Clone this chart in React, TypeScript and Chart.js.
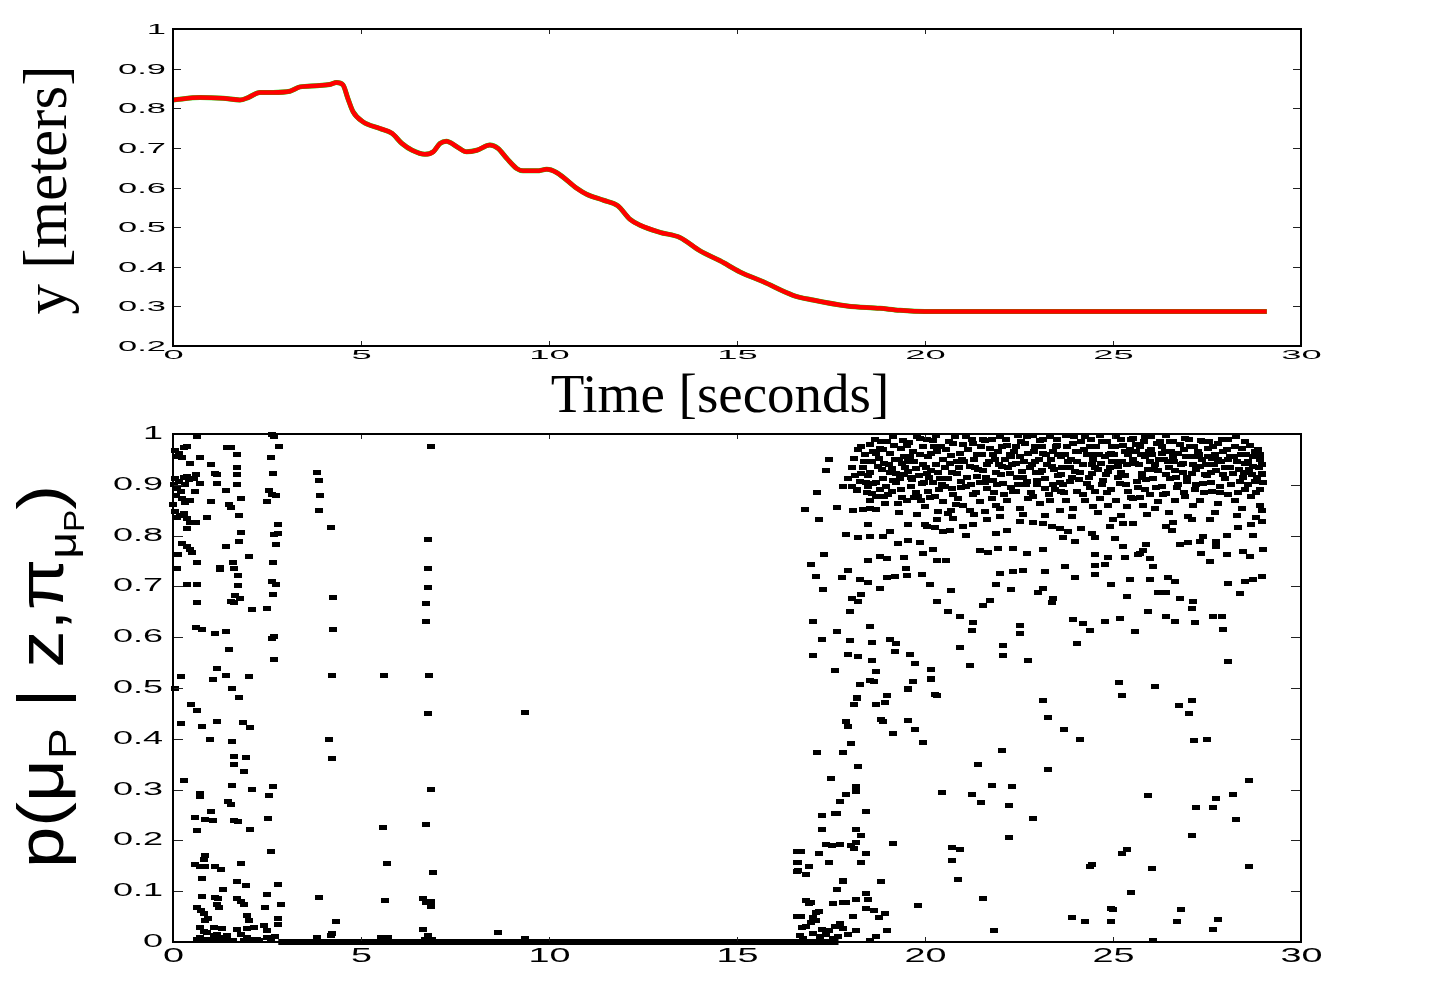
import React, { useEffect, useRef } from "react";
import { Chart, registerables } from "chart.js";

Chart.register(...registerables);

// ---------- top panel: y position over time ----------
const timeSeconds = [
  0, 0.72, 1.33, 1.78, 2.0, 2.31, 2.66, 3.11, 3.38, 3.82, 4.17, 4.35, 4.52, 4.65, 4.79, 5.05, 5.5, 5.82,
  6.09, 6.36, 6.7, 6.92, 7.1, 7.27, 7.55, 7.81, 8.08, 8.43, 8.64, 8.88, 9.14, 9.31, 9.68, 9.94, 10.2,
  10.74, 11.0, 11.44, 11.83, 12.15, 12.42, 12.95, 13.48, 14.02, 14.55, 15.08, 15.7, 16.49, 17.02, 17.93,
  18.8, 19.33, 20.0, 21.5, 23.0, 24.5, 26.0, 27.5, 29.09,
];
const heightMeters = [
  0.821, 0.827, 0.825, 0.821, 0.827, 0.84, 0.84, 0.843, 0.854, 0.857, 0.86, 0.865, 0.859, 0.825, 0.791,
  0.766, 0.749, 0.737, 0.711, 0.694, 0.684, 0.69, 0.711, 0.717, 0.703, 0.69, 0.694, 0.707, 0.699, 0.673,
  0.648, 0.642, 0.642, 0.646, 0.638, 0.598, 0.583, 0.568, 0.554, 0.52, 0.505, 0.487, 0.474, 0.44, 0.415,
  0.387, 0.362, 0.328, 0.316, 0.301, 0.295, 0.29, 0.287, 0.287, 0.287, 0.287, 0.287, 0.287, 0.287,
];

const xTicks = [0, 5, 10, 15, 20, 25, 30];
const topYTicks = [0.2, 0.3, 0.4, 0.5, 0.6, 0.7, 0.8, 0.9, 1];
const bottomYTicks = [0, 0.1, 0.2, 0.3, 0.4, 0.5, 0.6, 0.7, 0.8, 0.9, 1];

// ---------- bottom panel: probability samples ----------
const zeroRunTimes = [2.8, 17.7];

const earlyProbPoints: [number, number][] = [
  [0.64, 0.995], [0.06, 0.967], [0.15, 0.961], [0.28, 0.974], [0.37, 0.976], [0.09, 0.955], [0.24, 0.954],
  [0.46, 0.942], [0.71, 0.953], [1.0, 0.94], [1.44, 0.973], [1.53, 0.973], [1.69, 0.959], [1.69, 0.934],
  [1.69, 0.921], [1.13, 0.923], [1.17, 0.92], [2.6, 0.953], [2.69, 0.996], [2.64, 1.0], [2.82, 0.976],
  [2.67, 0.923], [0.06, 0.912], [0.15, 0.906], [0.02, 0.9], [0.11, 0.893], [0.2, 0.886], [0.09, 0.878],
  [0.28, 0.915], [0.37, 0.917], [0.33, 0.9], [0.42, 0.91], [0.6, 0.921], [0.55, 0.913], [0.73, 0.903],
  [0.58, 0.887], [0.24, 0.873], [0.33, 0.866], [0.46, 0.869], [0.0, 0.862], [1.0, 0.867], [1.17, 0.903],
  [1.42, 0.889], [1.49, 0.862], [1.53, 0.856], [1.69, 0.9], [1.81, 0.874], [2.55, 0.889], [2.64, 0.881],
  [2.73, 0.879], [2.51, 0.868], [3.84, 0.925], [3.89, 0.908], [3.91, 0.878], [3.89, 0.849], [0.06, 0.847],
  [0.18, 0.839], [0.28, 0.844], [0.37, 0.833], [0.11, 0.835], [0.44, 0.826], [0.6, 0.825], [0.91, 0.835],
  [1.75, 0.84], [2.78, 0.822], [2.78, 0.805], [2.69, 0.803], [4.2, 0.815], [0.37, 0.813], [1.81, 0.806],
  [2.73, 0.783], [1.75, 0.788], [0.24, 0.784], [0.36, 0.778], [0.46, 0.772], [0.51, 0.767], [0.12, 0.762],
  [1.42, 0.778], [2.02, 0.759], [0.64, 0.747], [0.11, 0.736], [1.26, 0.738], [1.26, 0.733], [1.6, 0.747],
  [1.62, 0.736], [1.73, 0.721], [2.66, 0.748], [0.36, 0.704], [0.64, 0.704], [1.73, 0.702], [2.64, 0.71],
  [2.73, 0.704], [2.66, 0.684], [0.64, 0.669], [1.53, 0.671], [1.62, 0.669], [1.66, 0.683], [1.78, 0.677],
  [2.1, 0.654], [2.51, 0.657], [4.26, 0.678], [0.6, 0.62], [0.77, 0.616], [1.13, 0.608], [1.42, 0.612],
  [2.64, 0.598], [2.69, 0.601], [4.25, 0.616], [1.49, 0.576], [2.69, 0.557], [0.21, 0.523], [1.17, 0.539],
  [1.07, 0.517], [1.42, 0.525], [2.03, 0.523], [4.24, 0.525], [0.04, 0.5], [1.56, 0.5], [1.75, 0.482],
  [0.48, 0.468], [0.64, 0.456], [0.21, 0.43], [0.77, 0.425], [1.17, 0.434], [1.87, 0.432], [2.05, 0.422],
  [0.98, 0.399], [1.56, 0.395], [4.15, 0.399], [1.62, 0.365], [1.95, 0.364], [1.62, 0.349], [4.24, 0.361],
  [1.9, 0.336], [0.28, 0.318], [1.56, 0.308], [2.11, 0.301], [2.67, 0.306], [2.54, 0.288], [0.71, 0.293],
  [0.71, 0.286], [1.0, 0.257], [0.58, 0.245], [0.86, 0.241], [1.07, 0.239], [0.64, 0.22], [1.46, 0.277],
  [1.55, 0.271], [1.62, 0.239], [1.73, 0.237], [2.04, 0.222], [2.53, 0.244], [2.6, 0.179], [0.86, 0.171],
  [0.82, 0.162], [0.58, 0.152], [0.73, 0.148], [0.86, 0.149], [1.13, 0.149], [1.28, 0.142], [1.81, 0.154],
  [0.77, 0.125], [1.69, 0.12], [1.95, 0.111], [0.77, 0.089], [1.13, 0.087], [1.19, 0.085], [1.33, 0.104],
  [0.64, 0.067], [0.75, 0.062], [0.82, 0.056], [0.93, 0.047], [0.86, 0.042], [1.22, 0.067], [1.17, 0.074],
  [1.69, 0.086], [1.8, 0.079], [1.9, 0.074], [1.98, 0.052], [2.02, 0.042], [2.51, 0.093], [2.46, 0.067],
  [2.8, 0.113], [2.86, 0.073], [2.78, 0.047], [2.78, 0.034], [3.89, 0.087], [4.24, 0.016], [4.33, 0.041],
  [5.64, 0.081], [5.69, 0.155], [5.58, 0.226], [0.71, 0.028], [0.82, 0.02], [1.09, 0.028], [1.31, 0.026],
  [1.71, 0.025], [1.98, 0.026], [2.15, 0.028], [2.42, 0.032], [2.51, 0.022], [0.73, 0.008], [0.91, 0.005],
  [1.09, 0.012], [1.26, 0.008], [1.44, 0.012], [1.8, 0.015], [1.98, 0.008], [2.24, 0.005], [2.51, 0.008],
  [0.91, 0.018], [1.17, 0.015], [3.84, 0.008], [4.2, 0.012], [5.53, 0.008], [5.71, 0.008], [0.65, 0.004],
  [0.8, 0.002], [1.0, 0.004], [1.2, 0.003], [1.4, 0.006], [1.6, 0.002], [1.9, 0.003], [2.1, 0.004],
  [2.3, 0.002], [2.6, 0.004], [2.7, 0.01], [5.62, 0.525],
  [6.86, 0.976], [6.79, 0.792], [6.79, 0.735], [6.79, 0.697], [6.72, 0.666], [6.72, 0.631], [6.82, 0.525],
  [6.79, 0.449], [9.36, 0.451], [6.86, 0.3], [6.72, 0.232], [6.92, 0.136], [6.66, 0.085], [6.74, 0.078],
  [6.86, 0.08], [6.86, 0.069], [6.64, 0.024], [6.79, 0.012], [6.7, 0.005], [6.9, 0.005], [8.65, 0.019],
  [9.36, 0.007],
];

const lateProbPoints: [number, number][] = [
  [16.6, 0.179], [16.6, 0.156], [16.6, 0.139], [16.6, 0.051],
  [17.45, 0.949], [17.38, 0.929], [17.12, 0.885], [16.8, 0.852], [17.19, 0.832], [17.66, 0.856],
  [18.09, 0.849], [18.36, 0.852], [18.53, 0.854], [18.71, 0.852], [18.49, 0.821], [17.89, 0.803],
  [18.22, 0.797], [18.53, 0.799], [18.89, 0.798], [19.07, 0.808], [19.29, 0.785], [19.55, 0.791],
  [19.86, 0.786], [19.55, 0.821], [20.0, 0.821], [20.26, 0.816], [17.31, 0.762], [16.98, 0.744],
  [17.96, 0.732], [18.49, 0.751], [18.8, 0.759], [18.98, 0.755], [19.44, 0.757], [19.49, 0.736],
  [19.95, 0.765], [20.22, 0.772], [20.31, 0.751], [20.57, 0.751], [17.1, 0.72], [17.78, 0.718],
  [18.27, 0.713], [18.49, 0.707], [18.98, 0.718], [19.2, 0.719], [19.51, 0.721], [19.91, 0.724],
  [17.29, 0.694], [18.05, 0.677], [18.31, 0.685], [18.8, 0.696], [18.22, 0.67], [20.13, 0.703],
  [20.7, 0.692], [20.31, 0.67], [18.0, 0.65], [17.03, 0.631], [17.65, 0.611], [18.53, 0.621],
  [17.25, 0.595], [18.0, 0.594], [18.58, 0.589], [19.07, 0.595], [19.24, 0.587], [17.03, 0.563],
  [17.96, 0.565], [18.22, 0.562], [18.58, 0.554], [19.2, 0.572], [19.6, 0.565], [17.6, 0.534],
  [18.27, 0.506], [18.71, 0.532], [18.98, 0.486], [19.55, 0.499], [19.69, 0.513], [19.73, 0.549],
  [20.17, 0.537], [20.17, 0.519], [20.26, 0.488], [18.18, 0.482], [18.53, 0.515], [20.62, 0.65],
  [20.93, 0.64], [21.28, 0.629], [21.24, 0.614], [20.93, 0.58], [21.19, 0.545], [21.55, 0.662],
  [21.73, 0.673], [21.9, 0.703], [21.99, 0.726], [22.3, 0.694], [22.35, 0.729], [22.61, 0.732],
  [22.08, 0.583], [22.08, 0.563], [22.52, 0.624], [22.52, 0.608], [22.74, 0.554], [23.01, 0.688],
  [23.14, 0.696], [23.19, 0.729], [23.37, 0.668], [23.41, 0.677], [23.72, 0.74], [23.94, 0.634],
  [23.99, 0.718], [24.03, 0.587], [24.21, 0.626], [24.38, 0.613], [24.52, 0.724], [24.52, 0.741],
  [24.78, 0.744], [24.78, 0.631], [24.87, 0.757], [24.96, 0.703], [25.18, 0.637], [25.32, 0.757],
  [25.45, 0.713], [25.58, 0.611], [25.36, 0.68], [25.67, 0.762], [25.8, 0.77], [25.89, 0.783],
  [25.98, 0.713], [26.07, 0.74], [25.94, 0.65], [26.2, 0.688], [26.42, 0.688], [26.47, 0.718],
  [26.64, 0.709], [26.78, 0.677], [26.42, 0.64], [26.64, 0.63], [27.13, 0.67], [27.09, 0.657],
  [27.18, 0.629], [27.66, 0.641], [27.89, 0.641], [27.93, 0.616], [28.06, 0.552], [27.35, 0.765],
  [27.58, 0.749], [28.02, 0.762], [28.46, 0.768], [28.64, 0.759], [29.0, 0.772], [28.06, 0.705],
  [28.37, 0.686], [28.51, 0.709], [28.73, 0.714], [28.95, 0.72], [27.4, 0.798], [27.75, 0.788],
  [26.56, 0.811], [26.78, 0.783], [27.0, 0.786], [27.31, 0.788], [27.75, 0.778], [28.02, 0.801],
  [28.33, 0.816], [28.68, 0.821], [28.95, 0.827], [28.73, 0.801], [27.09, 0.831], [27.58, 0.831],
  [26.42, 0.818], [26.6, 0.826], [25.54, 0.824], [25.27, 0.824], [25.0, 0.831], [24.92, 0.818],
  [25.05, 0.795], [25.27, 0.778], [25.71, 0.765], [25.98, 0.755], [23.81, 0.808], [24.16, 0.814],
  [24.43, 0.805], [24.52, 0.797], [23.59, 0.814], [23.37, 0.818], [23.14, 0.824], [22.88, 0.826],
  [22.52, 0.827], [22.17, 0.811], [21.9, 0.805], [21.64, 0.831], [21.46, 0.77], [21.68, 0.766],
  [21.95, 0.775], [22.35, 0.775], [22.7, 0.765], [23.14, 0.772], [23.68, 0.797], [23.99, 0.788],
  [24.52, 0.762], [21.02, 0.818], [21.28, 0.821], [21.1, 0.801], [20.31, 0.831], [20.04, 0.818],
  [20.75, 0.834], [20.66, 0.811], [20.48, 0.808],
  [18.27, 0.506], [18.65, 0.512], [19.67, 0.512], [20.17, 0.516], [19.55, 0.498], [20.31, 0.486],
  [19.0, 0.486], [18.18, 0.48], [18.11, 0.467], [18.71, 0.468], [18.93, 0.471], [17.9, 0.434],
  [17.96, 0.425], [18.84, 0.438], [18.87, 0.434], [19.54, 0.437], [19.73, 0.419], [19.14, 0.411],
  [19.95, 0.393], [18.02, 0.39], [17.12, 0.373], [17.81, 0.373], [18.22, 0.346], [17.51, 0.322],
  [18.16, 0.307], [18.16, 0.296], [17.9, 0.291], [17.74, 0.276], [17.25, 0.25], [17.6, 0.252],
  [17.66, 0.252], [18.43, 0.257], [17.25, 0.221], [18.16, 0.221], [18.29, 0.209], [17.36, 0.192],
  [17.53, 0.19], [17.74, 0.192], [18.02, 0.19], [18.11, 0.184], [18.16, 0.196], [16.69, 0.179],
  [17.19, 0.175], [18.43, 0.175], [18.29, 0.157], [17.45, 0.157], [16.63, 0.157], [16.63, 0.14],
  [16.83, 0.133], [16.92, 0.148], [19.14, 0.194], [17.81, 0.122], [17.81, 0.119], [17.66, 0.104],
  [18.84, 0.119], [17.54, 0.075], [17.81, 0.078], [17.9, 0.078], [18.16, 0.084], [18.43, 0.096],
  [18.49, 0.084], [16.83, 0.081], [16.92, 0.075], [16.98, 0.077], [18.43, 0.066], [18.64, 0.062],
  [18.93, 0.056], [18.78, 0.049], [16.69, 0.051], [17.01, 0.049], [17.1, 0.058], [17.19, 0.06],
  [18.09, 0.051], [16.74, 0.029], [16.83, 0.031], [16.98, 0.038], [17.1, 0.042], [17.27, 0.025],
  [17.45, 0.022], [17.6, 0.03], [17.74, 0.036], [17.82, 0.027], [17.96, 0.014], [18.16, 0.022],
  [19.0, 0.022], [18.71, 0.011], [18.53, 0.003], [16.67, 0.012], [16.76, 0.007], [17.03, 0.017],
  [17.2, 0.011], [17.38, 0.014], [17.56, 0.007], [17.69, 0.011], [19.82, 0.071], [20.44, 0.294],
  [20.71, 0.186], [20.93, 0.183], [20.71, 0.161], [20.87, 0.123], [21.55, 0.086], [21.83, 0.022],
  [21.41, 0.35], [21.26, 0.291], [21.48, 0.274], [21.77, 0.308], [22.04, 0.376], [22.32, 0.306],
  [22.24, 0.268], [22.24, 0.206], [22.88, 0.243], [23.14, 0.475], [23.28, 0.442], [23.28, 0.34],
  [23.7, 0.419], [24.12, 0.399], [23.91, 0.049], [24.25, 0.04], [24.38, 0.148], [24.45, 0.153],
  [24.94, 0.066], [25.0, 0.063], [24.94, 0.04], [25.16, 0.51], [25.23, 0.486], [25.24, 0.175],
  [25.36, 0.183], [25.49, 0.098], [25.92, 0.288], [26.05, 0.144], [26.07, 0.002], [26.13, 0.503],
  [26.69, 0.04], [26.82, 0.063], [26.76, 0.465], [27.03, 0.449], [27.09, 0.475], [27.16, 0.396],
  [27.5, 0.399], [27.09, 0.209], [27.22, 0.265], [27.65, 0.265], [27.73, 0.283], [27.65, 0.025],
  [27.8, 0.045], [28.2, 0.291], [28.27, 0.241], [28.62, 0.317], [28.62, 0.148],
];

const denseBandPoints: [number, number][] = [
  [18.22, 0.969], [18.53, 0.98], [18.31, 0.923], [18.05, 0.896], [17.82, 0.896], [18.27, 0.906], [18.18, 0.888],
  [18.53, 0.87], [18.4, 0.959], [18.71, 0.962], [18.8, 0.972], [18.62, 0.902], [18.49, 0.896], [18.8, 0.891],
  [18.71, 0.877], [18.93, 0.864], [18.76, 0.936], [18.89, 0.913], [18.98, 0.985], [19.07, 0.962], [19.2, 0.949],
  [19.15, 0.909], [19.02, 0.88], [19.24, 0.923], [18.89, 0.969], [19.11, 0.932], [19.42, 0.988], [19.51, 0.978],
  [19.6, 0.955], [19.38, 0.942], [19.33, 0.913], [19.64, 0.896], [19.51, 0.87], [19.29, 0.864], [19.55, 0.926],
  [19.69, 0.965], [19.86, 0.991], [19.95, 0.975], [20.09, 0.955], [19.77, 0.932], [20.04, 0.923], [19.91, 0.903],
  [19.82, 0.877], [20.09, 0.887], [20.0, 0.857], [20.22, 0.988], [20.31, 0.965], [20.48, 0.949], [20.17, 0.929],
  [20.4, 0.913], [20.53, 0.896], [20.26, 0.877], [20.48, 0.867], [20.35, 0.847], [20.75, 0.982], [20.93, 0.962],
  [20.66, 0.942], [20.84, 0.923], [20.97, 0.906], [20.71, 0.893], [20.88, 0.873], [21.02, 0.86], [20.62, 0.844],
  [21.1, 0.996], [21.28, 0.982], [21.41, 0.959], [21.19, 0.936], [21.37, 0.916], [21.1, 0.896], [21.28, 0.88],
  [21.46, 0.867], [21.19, 0.85], [21.59, 0.987], [21.72, 0.972], [21.86, 0.949], [21.55, 0.929], [21.81, 0.909],
  [21.64, 0.893], [21.77, 0.873], [21.9, 0.86], [21.59, 0.847], [21.99, 0.995], [22.17, 0.978], [22.3, 0.955],
  [22.04, 0.936], [22.26, 0.923], [22.08, 0.903], [22.35, 0.887], [22.17, 0.87], [21.99, 0.854], [22.48, 0.998],
  [22.66, 0.982], [22.74, 0.962], [22.43, 0.942], [22.57, 0.926], [22.7, 0.906], [22.43, 0.887], [22.74, 0.873],
  [22.52, 0.854], [22.88, 0.998], [23.05, 0.988], [23.14, 0.962], [22.92, 0.946], [23.1, 0.929], [22.97, 0.909],
  [23.19, 0.893], [22.88, 0.877], [23.05, 0.864], [23.32, 0.995], [23.5, 0.978], [23.63, 0.955], [23.37, 0.936],
  [23.54, 0.919], [23.41, 0.9], [23.63, 0.887], [23.32, 0.87], [23.59, 0.85], [23.76, 0.998], [23.94, 0.982],
  [24.07, 0.965], [23.81, 0.946], [23.99, 0.926], [23.85, 0.906], [24.03, 0.887], [23.76, 0.87], [23.94, 0.854],
  [24.25, 0.995], [24.38, 0.975], [24.52, 0.959], [24.21, 0.939], [24.43, 0.923], [24.3, 0.903], [24.52, 0.887],
  [24.25, 0.87], [24.47, 0.857], [24.65, 0.998], [24.83, 0.985], [24.96, 0.962], [24.69, 0.942], [24.87, 0.926],
  [24.74, 0.909], [24.96, 0.89], [24.65, 0.873], [24.87, 0.86], [25.09, 0.995], [25.27, 0.978], [25.4, 0.959],
  [25.14, 0.936], [25.31, 0.919], [25.18, 0.903], [25.4, 0.887], [25.09, 0.87], [25.36, 0.857], [25.54, 0.991],
  [25.71, 0.975], [25.85, 0.955], [25.58, 0.942], [25.76, 0.923], [25.63, 0.906], [25.85, 0.89], [25.54, 0.873],
  [25.8, 0.86], [26.02, 0.995], [26.16, 0.982], [26.29, 0.962], [25.98, 0.946], [26.2, 0.929], [26.07, 0.913],
  [26.29, 0.896], [25.98, 0.88], [26.2, 0.867], [26.11, 0.854], [26.42, 0.998], [26.6, 0.985], [26.73, 0.962],
  [26.47, 0.946], [26.64, 0.929], [26.51, 0.913], [26.73, 0.9], [26.42, 0.883], [26.64, 0.87], [26.91, 0.991],
  [27.04, 0.975], [27.18, 0.955], [26.87, 0.942], [27.09, 0.923], [26.96, 0.906], [27.18, 0.89], [26.91, 0.877],
  [27.13, 0.86], [27.35, 0.988], [27.53, 0.972], [27.62, 0.952], [27.31, 0.936], [27.49, 0.919], [27.4, 0.903],
  [27.62, 0.887], [27.31, 0.87], [27.8, 0.982], [27.93, 0.965], [28.06, 0.949], [27.75, 0.929], [27.97, 0.913],
  [27.84, 0.896], [28.06, 0.88], [27.8, 0.864], [28.28, 0.995], [28.42, 0.972], [28.51, 0.942], [28.2, 0.923],
  [28.37, 0.906], [28.51, 0.89], [28.24, 0.87], [28.42, 0.854], [28.64, 0.978], [28.86, 0.969], [28.9, 0.949],
  [28.73, 0.936], [28.95, 0.923], [28.77, 0.906], [28.9, 0.89], [28.68, 0.877], [28.9, 0.86], [28.95, 0.85],
  [18.12, 0.952], [18.35, 0.935], [18.45, 0.884], [18.15, 0.918], [18.3, 0.975], [18.42, 0.905],
  [18.58, 0.945], [18.66, 0.99], [18.85, 0.93], [18.95, 0.897], [18.6, 0.883], [18.78, 0.952], [18.92, 0.876],
  [19.05, 0.94], [19.18, 0.978], [19.3, 0.95], [19.45, 0.92], [19.36, 0.89], [19.12, 0.887], [19.48, 0.935],
  [19.58, 0.983], [19.72, 0.945], [19.85, 0.918], [19.95, 0.94], [19.66, 0.91], [19.9, 0.87], [19.75, 0.885],
  [20.05, 0.99], [20.15, 0.962], [20.28, 0.94], [20.42, 0.975], [20.2, 0.905], [20.38, 0.89], [20.12, 0.875],
  [20.55, 0.97], [20.68, 0.958], [20.8, 0.995], [20.9, 0.935], [20.6, 0.912], [20.75, 0.88], [20.98, 0.95],
  [21.05, 0.945], [21.15, 0.97], [21.3, 0.95], [21.42, 0.93], [21.22, 0.9], [21.35, 0.885], [21.48, 0.975],
  [21.52, 0.96], [21.65, 0.94], [21.78, 0.99], [21.9, 0.925], [21.6, 0.905], [21.84, 0.885], [21.95, 0.965],
  [22.05, 0.975], [22.12, 0.95], [22.22, 0.935], [22.38, 0.965], [22.45, 0.915], [22.28, 0.895], [22.1, 0.88],
  [22.55, 0.985], [22.62, 0.945], [22.78, 0.935], [22.9, 0.965], [22.68, 0.9], [22.82, 0.885], [22.95, 0.925],
  [23.02, 0.95], [23.12, 0.975], [23.25, 0.94], [23.4, 0.965], [23.2, 0.912], [23.45, 0.89], [23.3, 0.88],
  [23.52, 0.99], [23.65, 0.935], [23.72, 0.96], [23.88, 0.95], [23.58, 0.905], [23.9, 0.915], [23.7, 0.885],
  [24.05, 0.945], [24.15, 0.985], [24.32, 0.96], [24.45, 0.94], [24.1, 0.91], [24.38, 0.895], [24.2, 0.88],
  [24.55, 0.975], [24.6, 0.93], [24.78, 0.955], [24.92, 0.935], [24.7, 0.9], [24.85, 0.885], [24.98, 0.975],
  [25.02, 0.96], [25.2, 0.99], [25.25, 0.945], [25.45, 0.97], [25.12, 0.915], [25.35, 0.9], [25.48, 0.875],
  [25.6, 0.965], [25.68, 0.94], [25.82, 0.985], [25.92, 0.93], [25.66, 0.895], [25.88, 0.91], [25.72, 0.875],
  [26.05, 0.96], [26.12, 0.94], [26.25, 0.985], [26.35, 0.95], [26.4, 0.92], [26.15, 0.895], [26.32, 0.88],
  [26.55, 0.965], [26.62, 0.945], [26.78, 0.98], [26.85, 0.925], [26.95, 0.955], [26.7, 0.895], [26.88, 0.885],
  [27.02, 0.99], [27.12, 0.94], [27.25, 0.965], [27.38, 0.95], [27.45, 0.92], [27.22, 0.9], [27.42, 0.885],
  [27.55, 0.985], [27.68, 0.94], [27.72, 0.96], [27.88, 0.945], [27.92, 0.92], [27.6, 0.905], [27.85, 0.885],
  [28.02, 0.97], [28.12, 0.935], [28.22, 0.955], [28.35, 0.93], [28.45, 0.915], [28.15, 0.9], [28.32, 0.885],
  [28.55, 0.96], [28.62, 0.93], [28.72, 0.955], [28.82, 0.915], [28.95, 0.94], [28.6, 0.9], [28.8, 0.885],
  [28.98, 0.905],
  [18.05, 0.935], [18.2, 0.89], [18.38, 0.945], [18.48, 0.918], [17.95, 0.912],
  [18.55, 0.925], [18.7, 0.905], [18.82, 0.985], [18.9, 0.942], [18.62, 0.965],
  [19.08, 0.925], [19.22, 0.905], [19.35, 0.972], [19.45, 0.955], [19.15, 0.995], [19.4, 0.875],
  [19.55, 0.945], [19.62, 0.915], [19.78, 0.995], [19.88, 0.96], [19.98, 0.905], [19.7, 0.875],
  [20.02, 0.935], [20.1, 0.915], [20.25, 0.975], [20.35, 0.925], [20.45, 0.9], [20.3, 0.998],
  [20.52, 0.935], [20.65, 0.985], [20.72, 0.925], [20.85, 0.945], [20.95, 0.895], [20.82, 0.862],
  [21.02, 0.98], [21.12, 0.915], [21.25, 0.99], [21.38, 0.96], [21.45, 0.905], [21.32, 0.935],
  [21.55, 0.99], [21.62, 0.915], [21.7, 0.945], [21.82, 0.96], [21.92, 0.9], [21.98, 0.94],
  [22.02, 0.92], [22.15, 0.99], [22.25, 0.96], [22.32, 0.94], [22.42, 0.975], [22.48, 0.9],
  [22.52, 0.955], [22.6, 0.915], [22.72, 0.995], [22.85, 0.94], [22.92, 0.975], [22.98, 0.9],
  [23.05, 0.925], [23.15, 0.99], [23.22, 0.96], [23.35, 0.95], [23.42, 0.93], [23.48, 0.975],
  [23.55, 0.96], [23.62, 0.92], [23.78, 0.975], [23.85, 0.935], [23.95, 0.995], [23.68, 0.9],
  [24.02, 0.965], [24.12, 0.925], [24.22, 0.97], [24.35, 0.915], [24.42, 0.99], [24.48, 0.95],
  [24.52, 0.935], [24.62, 0.96], [24.72, 0.985], [24.82, 0.92], [24.9, 0.96], [24.98, 0.945],
  [25.05, 0.975], [25.15, 0.945], [25.22, 0.925], [25.32, 0.965], [25.38, 0.94], [25.48, 0.99],
  [25.52, 0.95], [25.62, 0.98], [25.75, 0.96], [25.85, 0.995], [25.95, 0.965], [25.78, 0.915],
  [26.02, 0.97], [26.1, 0.93], [26.22, 0.95], [26.3, 0.975], [26.38, 0.965], [26.48, 0.935],
  [26.52, 0.985], [26.6, 0.955], [26.68, 0.915], [26.8, 0.94], [26.9, 0.97], [26.98, 0.915],
  [27.05, 0.955], [27.15, 0.975], [27.2, 0.93], [27.3, 0.96], [27.4, 0.985], [27.48, 0.94],
  [27.52, 0.955], [27.6, 0.925], [27.65, 0.975], [27.78, 0.95], [27.9, 0.99], [27.98, 0.935],
  [28.05, 0.99], [28.1, 0.955], [28.25, 0.975], [28.3, 0.945], [28.4, 0.96], [28.48, 0.925],
  [28.52, 0.985], [28.6, 0.945], [28.7, 0.92], [28.78, 0.965], [28.88, 0.935], [28.97, 0.92], [28.92, 0.96],
  [19.3, 0.845], [19.8, 0.842], [20.7, 0.85], [21.3, 0.842], [22.0, 0.838], [22.6, 0.842], [23.2, 0.84],
  [23.9, 0.838], [24.6, 0.845], [25.2, 0.84], [25.9, 0.842], [26.5, 0.845], [27.0, 0.838], [27.7, 0.845],
  [28.3, 0.84], [28.8, 0.835],
];

// ---------- drawing helpers ----------
const SANS = "'Liberation Sans', Arial, sans-serif";
const SERIF = "'Liberation Serif', 'Times New Roman', serif";

function stretchedText(ctx: any, text: string, x: number, y: number, font: string, sx: number, align: string) {
  ctx.save();
  ctx.font = font;
  ctx.textBaseline = "middle";
  ctx.textAlign = "left";
  const w = ctx.measureText(text).width * sx;
  const left = align === "right" ? x - w : align === "center" ? x - w / 2 : x;
  ctx.translate(left, y);
  ctx.scale(sx, 1);
  ctx.fillStyle = "#000";
  ctx.fillText(text, 0, 0);
  ctx.restore();
}

function framePlugin(o: any) {
  return {
    id: "frameAndLabels",
    afterDraw(chart: any) {
      const { ctx, chartArea: a } = chart;
      const xs = chart.scales.x;
      const ys = chart.scales.y;
      ctx.save();
      ctx.strokeStyle = "#222";
      ctx.lineWidth = 1;
      for (const v of o.xTicks) {
        const px = Math.round(xs.getPixelForValue(v)) + 0.5;
        ctx.beginPath();
        ctx.moveTo(px, a.bottom);
        ctx.lineTo(px, a.bottom - o.xTickLen);
        ctx.moveTo(px, a.top);
        ctx.lineTo(px, a.top + o.xTickLen);
        ctx.stroke();
        stretchedText(ctx, String(v), px, o.xLabelY, o.xFont, o.xStretch, "center");
      }
      for (const v of o.yTicks) {
        const py = Math.round(ys.getPixelForValue(v)) + 0.5;
        ctx.beginPath();
        ctx.moveTo(a.left, py);
        ctx.lineTo(a.left + o.yTickLen, py);
        ctx.moveTo(a.right, py);
        ctx.lineTo(a.right - o.yTickLen, py);
        ctx.stroke();
        stretchedText(ctx, String(v), o.yLabelRight, py, o.yFont, o.yStretch, "right");
      }
      ctx.strokeStyle = "#000";
      ctx.lineWidth = 2;
      ctx.strokeRect(a.left, a.top, a.right - a.left, a.bottom - a.top);
      o.drawTitles(ctx);
      ctx.restore();
    },
  };
}

function drawTopTitles(ctx: any) {
  ctx.save();
  ctx.fillStyle = "#000";
  ctx.font = `61px ${SERIF}`;
  ctx.textAlign = "center";
  ctx.textBaseline = "alphabetic";
  ctx.translate(66, 190);
  ctx.rotate(-Math.PI / 2);
  ctx.fillText("y [meters]", 0, 0);
  ctx.restore();

  ctx.save();
  ctx.fillStyle = "#000";
  ctx.font = `55px ${SERIF}`;
  ctx.textAlign = "center";
  ctx.textBaseline = "alphabetic";
  ctx.fillText("Time [seconds]", 720, 412);
  ctx.restore();
}

function drawBottomTitle(ctx: any) {
  const base = 64;
  const segs = [
    { t: "p(μ", s: 1, dy: 0 },
    { t: "P", s: 0.62, dy: 0.2 },
    { t: " | z,", s: 1, dy: 0 },
    { t: "π", s: 1, dy: 0 },
    { t: "μ", s: 0.62, dy: 0.2 },
    { t: "P", s: 0.45, dy: 0.33 },
    { t: ")", s: 1, dy: 0 },
  ];
  ctx.save();
  ctx.fillStyle = "#000";
  ctx.textAlign = "left";
  ctx.textBaseline = "alphabetic";
  let total = 0;
  const widths: number[] = [];
  for (const sg of segs) {
    ctx.font = `${base * sg.s}px ${SANS}`;
    const w = ctx.measureText(sg.t).width;
    widths.push(w);
    total += w;
  }
  const target = 383;
  const k = target / total;
  ctx.translate(63, 256.5 + target / 2);
  ctx.rotate(-Math.PI / 2);
  ctx.scale(k, 1);
  let x = 0;
  segs.forEach((sg, i) => {
    ctx.font = `${base * sg.s}px ${SANS}`;
    ctx.fillText(sg.t, x, sg.dy * base);
    x += widths[i];
  });
  ctx.restore();
}

function toXY(pts: [number, number][]) {
  return pts.map(([x, y]) => ({ x, y }));
}

export default function App() {
  const topRef = useRef<HTMLCanvasElement | null>(null);
  const botRef = useRef<HTMLCanvasElement | null>(null);

  useEffect(() => {
    const marker = document.createElement("canvas");
    marker.width = 8;
    marker.height = 5;
    const mctx = marker.getContext("2d")!;
    mctx.fillStyle = "#000";
    mctx.fillRect(0, 0, 8, 5);

    const linePts = timeSeconds.map((t, i) => ({ x: t, y: heightMeters[i] }));

    const hiddenScale = (min: number, max: number, fit: (s: any) => void) => ({
      type: "linear" as const,
      min,
      max,
      ticks: { display: false },
      grid: { display: false },
      border: { display: false },
      afterFit: fit,
    });

    const top = new Chart(topRef.current!, {
      type: "scatter",
      data: {
        datasets: [
          {
            data: linePts,
            showLine: true,
            borderColor: "#ff0000",
            borderWidth: 4.5,
            pointRadius: 0,
            cubicInterpolationMode: "monotone",
          } as any,
          {
            data: linePts,
            showLine: true,
            borderColor: "#00dd00",
            borderWidth: 5,
            pointRadius: 0,
            cubicInterpolationMode: "monotone",
          } as any,
        ],
      },
      options: {
        responsive: false,
        animation: false,
        devicePixelRatio: 1,
        events: [],
        layout: { padding: { top: 29, right: 130, left: 0, bottom: 0 } },
        plugins: { legend: { display: false }, tooltip: { enabled: false } },
        scales: {
          x: hiddenScale(0, 30, (s: any) => { s.height = 86; }),
          y: hiddenScale(0.2, 1, (s: any) => { s.width = 173; }),
        } as any,
      },
      plugins: [
        framePlugin({
          xTicks, yTicks: topYTicks, xTickLen: 5, yTickLen: 8,
          xLabelY: 355, xFont: `13px ${SANS}`, xStretch: 2.8,
          yLabelRight: 166, yFont: `15px ${SANS}`, yStretch: 2.3,
          drawTitles: drawTopTitles,
        }),
      ],
    });

    const bottom = new Chart(botRef.current!, {
      type: "scatter",
      data: {
        datasets: [
          {
            data: zeroRunTimes.map((t) => ({ x: t, y: 0 })),
            showLine: true,
            borderColor: "#000",
            borderWidth: 6,
            pointRadius: 0,
            clip: false,
          } as any,
          {
            data: toXY(earlyProbPoints),
            pointStyle: marker,
            pointRadius: 3,
            clip: false,
          } as any,
          {
            data: toXY(lateProbPoints),
            pointStyle: marker,
            pointRadius: 3,
            clip: false,
          } as any,
          {
            data: toXY(denseBandPoints),
            pointStyle: marker,
            pointRadius: 3,
            clip: false,
          } as any,
        ],
      },
      options: {
        responsive: false,
        animation: false,
        devicePixelRatio: 1,
        events: [],
        layout: { padding: { top: 14, right: 130, left: 0, bottom: 0 } },
        plugins: { legend: { display: false }, tooltip: { enabled: false } },
        scales: {
          x: hiddenScale(0, 30, (s: any) => { s.height = 66; }),
          y: hiddenScale(0, 1, (s: any) => { s.width = 173; }),
        } as any,
      },
      plugins: [
        framePlugin({
          xTicks, yTicks: bottomYTicks, xTickLen: 5, yTickLen: 10,
          xLabelY: 536, xFont: `21px ${SANS}`, xStretch: 1.8,
          yLabelRight: 163, yFont: `18px ${SANS}`, yStretch: 2.0,
          drawTitles: drawBottomTitle,
        }),
      ],
    });

    return () => {
      top.destroy();
      bottom.destroy();
    };
  }, []);

  return (
    <div style={{ position: "absolute", left: 0, top: 0, width: 1431, height: 1008, background: "#fff", overflow: "hidden" }}>
      <canvas ref={topRef} width={1431} height={432} style={{ position: "absolute", left: 0, top: 0, width: 1431, height: 432 }} />
      <canvas ref={botRef} width={1431} height={588} style={{ position: "absolute", left: 0, top: 420, width: 1431, height: 588 }} />
    </div>
  );
}
